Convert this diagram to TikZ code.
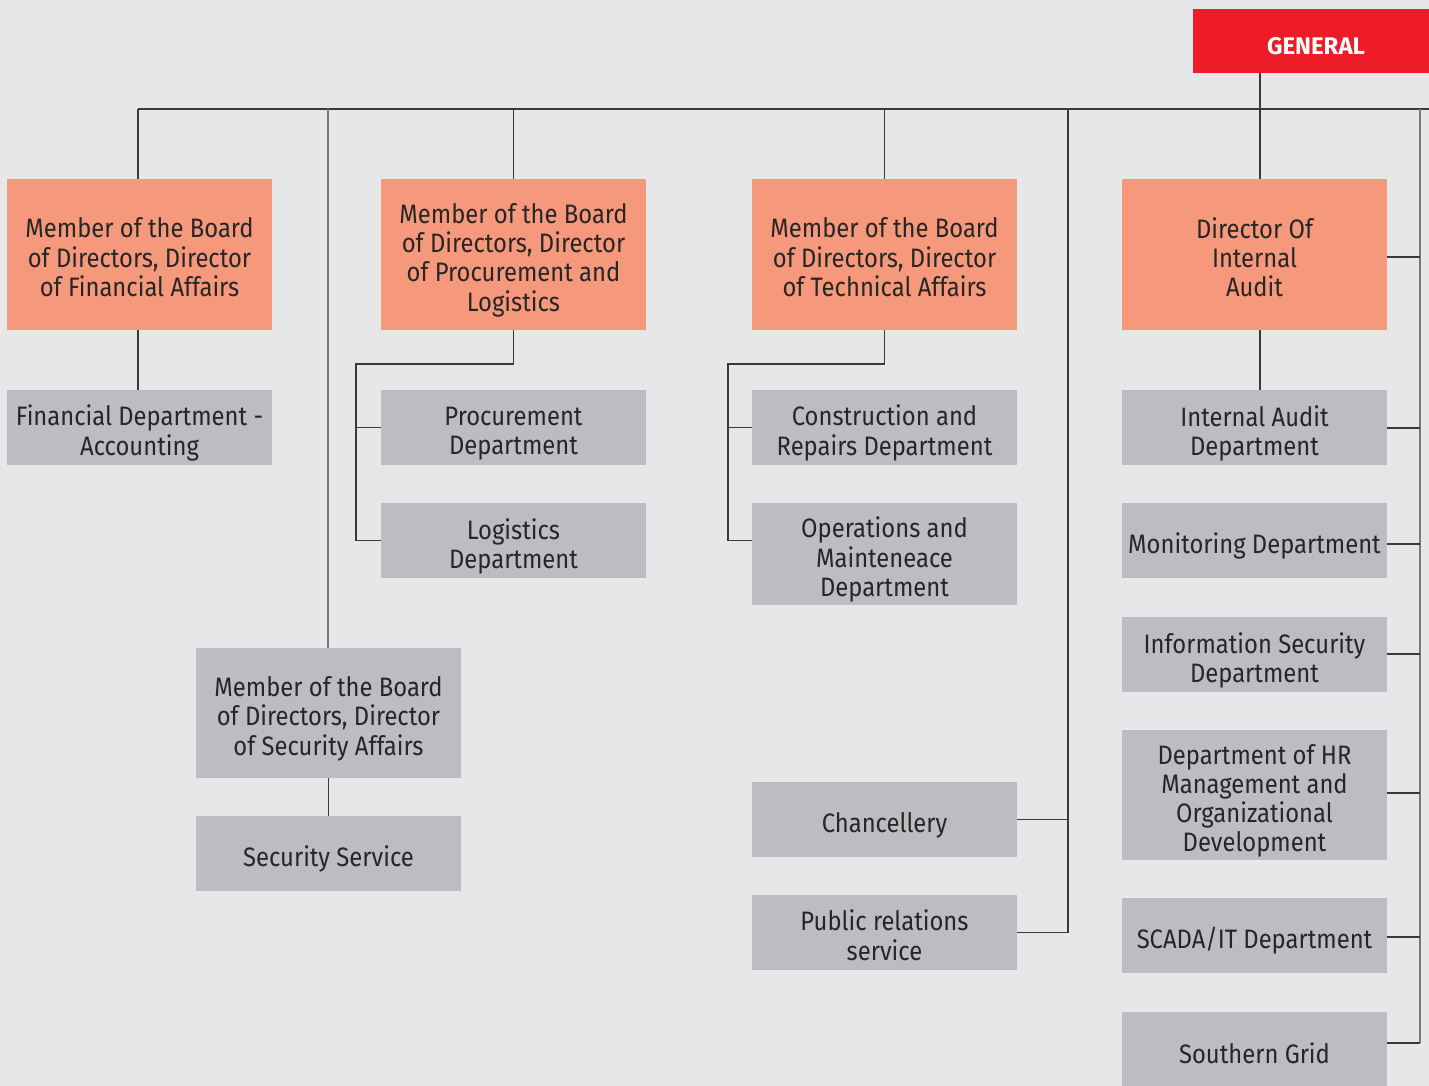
\documentclass[tikz,border=0pt]{standalone}
\usepackage{graphicx}
\usepackage{fontspec}
\setmainfont{Fira Sans}
\definecolor{bg}{HTML}{E6E7E9}
\definecolor{org}{HTML}{F6987B}
\definecolor{gry}{HTML}{BCBDC1}
\definecolor{rd}{HTML}{ED1C27}
\definecolor{txt}{HTML}{262626}
\definecolor{ln}{HTML}{3A3A3A}
\definecolor{ln2}{HTML}{7A7A7A}
\newcommand\boxtxt[1]{\raisebox{0pt}[\dimexpr\height+14pt\relax][\depth]{\scalebox{1}[1.12]{\begin{tabular}{@{}c@{}}#1\end{tabular}}}}
\begin{document}
\begin{tikzpicture}[x=1pt,y=-1pt,
  box/.style={minimum width=265pt,inner sep=0pt,text=txt,
    font=\fontsize{23.8}{25.9}\selectfont},
  obox/.style={box,fill=org,minimum height=151pt},
  gbox/.style={box,fill=gry,minimum height=75pt},
  con/.style={draw=ln,line width=1.1pt},
  con2/.style={draw=ln2,line width=1.5pt}]
\fill[bg] (0,0) rectangle (1429,1086);
\clip (0,0) rectangle (1429,1086);
\useasboundingbox (0,0) rectangle (1429,1086);
% top
\node[fill=rd,minimum width=246pt,minimum height=64pt,inner sep=0pt,text=white,
  font=\fontsize{24}{28}\selectfont\bfseries] (gen) at (1316,41) {\raisebox{0pt}[28pt][0pt]{GENERAL}};
% orange
\node[obox] (a) at (139.5,254.5) {\boxtxt{Member of the Board\\of Directors, Director\\of Financial Affairs}};
\node[obox] (b) at (513.5,254.5) {\boxtxt{Member of the Board\\of Directors, Director\\of Procurement and\\Logistics}};
\node[obox] (c) at (884.5,254.5) {\boxtxt{Member of the Board\\of Directors, Director\\of Technical Affairs}};
\node[obox] (d) at (1254.5,254.5) {\boxtxt{Director Of\\Internal\\Audit}};
% gray
\node[gbox] (fin) at (139.5,427.5) {\boxtxt{Financial Department -\\Accounting}};
\node[gbox] (proc) at (513.5,427.5) {\boxtxt{Procurement\\Department}};
\node[gbox] (log) at (513.5,540.5) {\boxtxt{Logistics\\Department}};
\node[gbox] (cons) at (884.5,427.5) {\boxtxt{Construction and\\Repairs Department}};
\node[gbox,minimum height=102pt] (ops) at (884.5,554) {\boxtxt{Operations and\\Mainteneace\\Department}};
\node[gbox] (ia) at (1254.5,427.5) {\boxtxt{Internal Audit\\Department}};
\node[gbox] (mon) at (1254.5,540.5) {\boxtxt{Monitoring Department}};
\node[gbox] (isec) at (1254.5,654.5) {\boxtxt{Information Security\\Department}};
\node[gbox,minimum height=130pt] (hr) at (1254.5,795) {\boxtxt{Department of HR\\Management and\\Organizational\\Development}};
\node[gbox] (scada) at (1254.5,935.5) {\boxtxt{SCADA/IT Department}};
\node[gbox,minimum height=76pt] (sg) at (1254.5,1050) {\boxtxt{Southern Grid}};
\node[gbox,minimum height=130pt] (sm) at (328.5,713) {\boxtxt{Member of the Board\\of Directors, Director\\of Security Affairs}};
\node[gbox] (ss) at (328.5,853.5) {\boxtxt{Security Service}};
\node[gbox] (ch) at (884.5,819.5) {\boxtxt{Chancellery}};
\node[gbox] (pr) at (884.5,932.5) {\boxtxt{Public relations\\service}};
% bus coordinates
\coordinate (busL) at (138,109);
\coordinate (busR) at (1429,109);
\coordinate (rb) at (1420,109);
\coordinate (mb) at (1068,109);
\coordinate (sb) at (328,109);
\coordinate (gb) at (1260,109);
\coordinate (pb) at (356,364);
\coordinate (tb) at (728,364);
\coordinate (r1) at (1420,257);
\coordinate (r2) at (1420,428);
\coordinate (r3) at (1420,544);
\coordinate (r4) at (1420,654);
\coordinate (r5) at (1420,793);
\coordinate (r6) at (1420,937);
\coordinate (r7) at (1420,1043);
% main bus
\draw[con] (busL) -- (busR);
\draw[con] (busL) -- (busL |- a.north);
\draw[con] (a.south -| busL) -- (fin.north -| busL);
\draw[con] (b.north) -- (b.north |- busL);
\draw[con] (c.north) -- (c.north |- busL);
\draw[con] (gen.south -| gb) -- (gb |- d.north);
\draw[con] (d.south -| gb) -- (gb |- ia.north);
\draw[con2] (sb) -- (sb |- sm.north);
\draw[con] (sm) -- (ss);
% procurement
\draw[con] (b.south) |- (pb) |- (log.west);
\draw[con] (pb |- proc.west) -- (proc.west);
% technical
\draw[con] (c.south) |- (tb) |- (ops.west |- log.west);
\draw[con] (tb |- cons.west) -- (cons.west);
% chancellery bus
\draw[con] (mb) |- (pr.east);
\draw[con] (mb |- ch.east) -- (ch.east);
% right bus
\draw[con2] (rb) -- (r7);
\draw[con] (r1) -- (r1 -| d.east);
\draw[con] (r2) -- (r2 -| ia.east);
\draw[con] (r3) -- (r3 -| mon.east);
\draw[con] (r4) -- (r4 -| isec.east);
\draw[con] (r5) -- (r5 -| hr.east);
\draw[con] (r6) -- (r6 -| scada.east);
\draw[con] (r7) -- (r7 -| sg.east);
\end{tikzpicture}
\end{document}
